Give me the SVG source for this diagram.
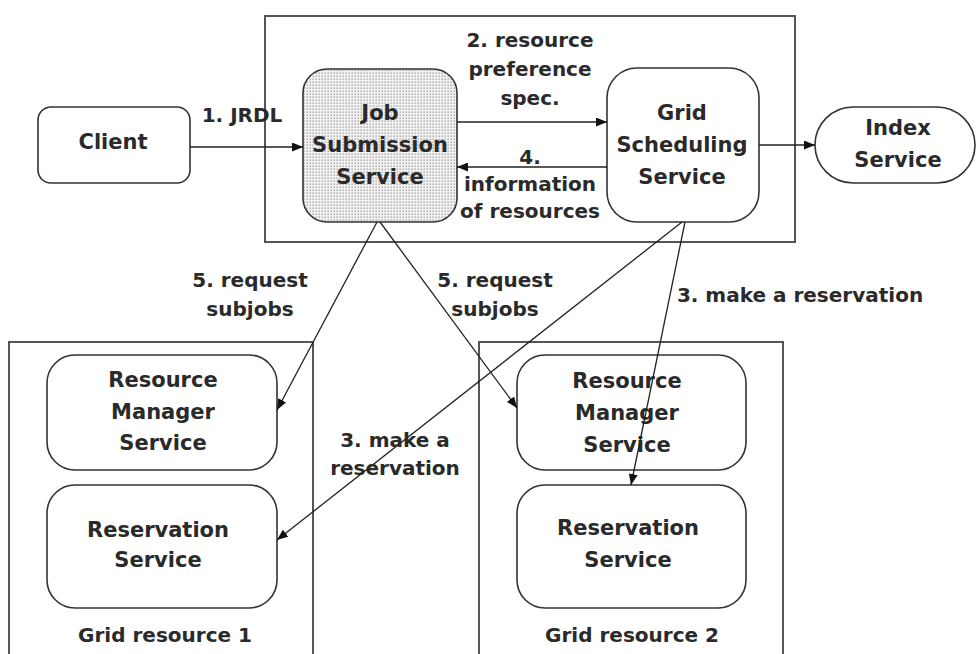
<svg xmlns="http://www.w3.org/2000/svg" width="978" height="654" viewBox="0 0 978 654">
<style>
text{font-family:"DejaVu Sans","Liberation Sans",sans-serif;font-weight:bold;fill:#2a2a2a;text-anchor:middle;dominant-baseline:central}
.n{font-size:21px}
.l{font-size:20px}
.box{fill:none;stroke:#555;stroke-width:2}
.node{fill:#fff;stroke:#333;stroke-width:1.6}
.edge{fill:none;stroke:#222;stroke-width:1.3;marker-end:url(#ah)}
</style>
<defs>
<marker id="ah" markerUnits="userSpaceOnUse" markerWidth="11" markerHeight="9" refX="11" refY="4.5" orient="auto">
<path d="M0,0 L11,4.5 L0,9 z" fill="#111"/>
</marker>
<pattern id="dots" patternUnits="userSpaceOnUse" width="3" height="3">
<rect width="3" height="3" fill="#f2f2f2"/>
<rect x="0.5" y="0.5" width="1.3" height="1.3" fill="#9a9a9a"/>
</pattern>
</defs>

<g id="containers">
<rect id="top-container" class="box" x="265" y="16" width="530" height="226"/>
<rect id="grid-resource-1" class="box" x="9" y="342" width="304" height="330"/>
<rect id="grid-resource-2" class="box" x="479" y="342" width="304" height="330"/>
<text class="l" x="165" y="635">Grid resource 1</text>
<text class="l" x="632" y="635">Grid resource 2</text>
</g>

<g id="client">
<rect class="node" x="38" y="107" width="152" height="76" rx="13"/>
<text class="n" x="113" y="142">Client</text>
</g>

<g id="job-submission">
<rect class="node" x="303" y="69" width="154" height="153" rx="24" fill="url(#dots)" style="fill:url(#dots)"/>
<text class="n" x="380" y="113">Job</text>
<text class="n" x="380" y="145">Submission</text>
<text class="n" x="380" y="177">Service</text>
</g>

<g id="grid-scheduling">
<rect class="node" x="607" y="68" width="152" height="154" rx="30"/>
<text class="n" x="682" y="113">Grid</text>
<text class="n" x="682" y="145">Scheduling</text>
<text class="n" x="682" y="177">Service</text>
</g>

<g id="index-service">
<rect class="node" x="815" y="107" width="160" height="76" rx="38"/>
<text class="n" x="898" y="128">Index</text>
<text class="n" x="898" y="160">Service</text>
</g>

<g id="rm1">
<rect class="node" x="47" y="355" width="230" height="115" rx="28"/>
<text class="n" x="163" y="380">Resource</text>
<text class="n" x="163" y="412">Manager</text>
<text class="n" x="163" y="443">Service</text>
</g>

<g id="rs1">
<rect class="node" x="47" y="485" width="230" height="123" rx="28"/>
<text class="n" x="158" y="530">Reservation</text>
<text class="n" x="158" y="560">Service</text>
</g>

<g id="rm2">
<rect class="node" x="517" y="355" width="229" height="115" rx="28"/>
<text class="n" x="627" y="381">Resource</text>
<text class="n" x="627" y="413">Manager</text>
<text class="n" x="627" y="445">Service</text>
</g>

<g id="rs2">
<rect class="node" x="517" y="485" width="229" height="123" rx="28"/>
<text class="n" x="628" y="528">Reservation</text>
<text class="n" x="628" y="560">Service</text>
</g>

<g id="connectors">
<line class="edge" x1="190" y1="147" x2="303" y2="147"/>
<line class="edge" x1="457" y1="122" x2="607" y2="122"/>
<line class="edge" x1="607" y1="167" x2="457" y2="167"/>
<line class="edge" x1="759" y1="145" x2="815" y2="145"/>
<line class="edge" x1="377" y1="222" x2="277" y2="410"/>
<line class="edge" x1="380" y1="222" x2="517" y2="408"/>
<line class="edge" x1="682" y1="222" x2="277" y2="540"/>
<line class="edge" x1="685" y1="222" x2="631" y2="485"/>
</g>

<g id="labels">
<text class="l" x="242" y="115">1. JRDL</text>
<text class="l" x="530" y="40">2. resource</text>
<text class="l" x="530" y="69">preference</text>
<text class="l" x="530" y="98">spec.</text>
<text class="l" x="530" y="157">4.</text>
<text class="l" x="530" y="184">information</text>
<text class="l" x="530" y="211">of resources</text>
<text class="l" x="250" y="280">5. request</text>
<text class="l" x="250" y="309">subjobs</text>
<text class="l" x="495" y="280">5. request</text>
<text class="l" x="495" y="309">subjobs</text>
<text class="l" x="800" y="295">3. make a reservation</text>
<text class="l" x="395" y="440">3. make a</text>
<text class="l" x="395" y="468">reservation</text>
</g>
</svg>
